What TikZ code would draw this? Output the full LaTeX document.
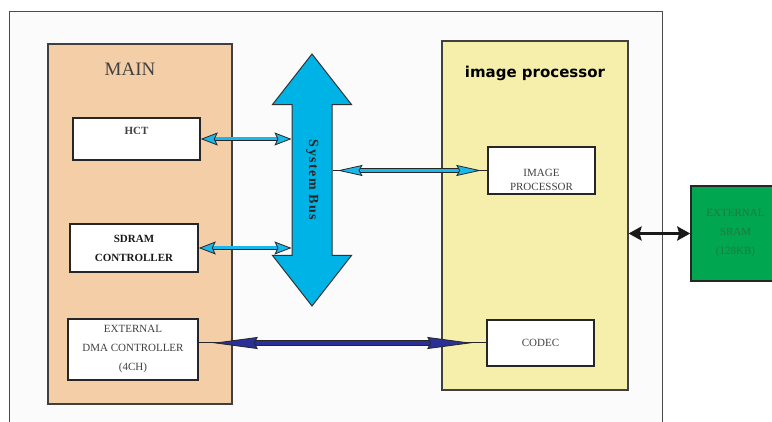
\documentclass[tikz,border=0pt]{standalone}
\usepackage{fontspec}
\setmainfont{Liberation Serif}
\newfontfamily\headfont{DejaVu Sans}
\newfontfamily\busfont[LetterSpace=10]{Liberation Serif}
\usepackage{xcolor}
\usepackage{tikz}
\usetikzlibrary{positioning,arrows.meta,shapes.arrows}
\definecolor{framebg}{HTML}{FBFBFB}
\definecolor{framecol}{HTML}{4A4A4A}
\definecolor{mainfill}{HTML}{F4CEA6}
\definecolor{ipfill}{HTML}{F6EFAB}
\definecolor{buscyan}{HTML}{00B3E6}
\definecolor{linkcyan}{HTML}{1AB8EA}
\definecolor{dmablue}{HTML}{2B3099}
\definecolor{sramgreen}{HTML}{00A650}
\definecolor{sramtext}{HTML}{1F7A3E}
\tikzstyle{container} = [rectangle, draw=black!75, line width=1.2pt, inner sep=0pt]
\tikzstyle{element} = [rectangle, draw=black!85, line width=1.5pt, fill=white, inner sep=0pt, align=center, text=black!75, font=\fontsize{11}{19}\selectfont]
\tikzstyle{bus} = [double arrow, draw=black!80, line width=1pt, fill=buscyan, double arrow head extend=19.5pt, double arrow tip angle=76, minimum height=252pt, minimum width=78pt, text height=9pt, text depth=3pt, inner xsep=0pt, inner ysep=13.5pt, text=black!85, font=\busfont\bfseries\fontsize{14}{14}\selectfont]
\tikzstyle{link} = [line width=0.8pt, draw=black!85, double=linkcyan, double distance=3pt]
\tikzstyle{dmalink} = [line width=0.8pt, draw=black!85, double=dmablue, double distance=3.5pt]
\tikzstyle{stub} = [line width=1pt, black!85]
\tikzstyle{cyanhead} = [{Stealth[length=17pt,width=13pt,inset=3pt,fill=linkcyan]}-{Stealth[length=17pt,width=13pt,inset=3pt,fill=linkcyan]}]
\tikzstyle{thinhead} = [{Stealth[length=25pt,width=11pt,inset=3pt,fill=linkcyan]}-{Stealth[length=25pt,width=11pt,inset=3pt,fill=linkcyan]}]
\tikzstyle{dmahead} = [{Stealth[length=45pt,width=12pt,inset=3pt,fill=dmablue]}-{Stealth[length=45pt,width=12pt,inset=3pt,fill=dmablue]}]
\tikzstyle{sramarrow} = [line width=3pt, black!90, {Stealth[length=13pt,width=14pt,inset=2pt]}-{Stealth[length=13pt,width=14pt,inset=2pt]}]

\begin{document}
\begin{tikzpicture}[x=1pt, y=-1pt]
		\useasboundingbox (0,0) rectangle (772,422);
		\clip (0,0) rectangle (772,422);
		% outer frame
		\fill[framebg] (9,12) rectangle (662,430);
		\draw[framecol, line width=1pt] (9,430) -- (9,12) -- (662,12) -- (662,430);
		
		% containers
		\node[container, fill=mainfill, minimum width=184pt, minimum height=360pt] (main) at (140,224) {};
		\node[font=\fontsize{19}{19}\selectfont, text=black!75] (maintitle) at (130,69) {MAIN};
		\node[container, fill=ipfill, minimum width=186pt, minimum height=349pt] (ip) at (535,215.5) {};
		\node[font=\headfont\bfseries\fontsize{15}{15}\selectfont] (iptitle) at (535,73) {image processor};
		
		% blocks
		\node[element, minimum width=127pt, minimum height=42pt,
		label={[anchor=north, yshift=-6pt, text=black!75, font=\fontsize{11}{11}\selectfont\bfseries]north:HCT}] (hct) at (136.5,139) {};
		\node[element, minimum width=128pt, minimum height=48pt, text=black!90, font=\fontsize{11}{19}\selectfont\bfseries] (sdram) at (134,248) {SDRAM\\CONTROLLER};
		\node[element, minimum width=130pt, minimum height=61pt] (dma) at (133,349.5) {EXTERNAL\\DMA CONTROLLER\\(4CH)};
		\node[element, minimum width=107pt, minimum height=47pt,
		label={[align=center, yshift=-9.5pt, text=black!75, font=\fontsize{11}{14}\selectfont]center:IMAGE\\PROCESSOR}] (improc) at (541.5,170.5) {};
		\node[element, minimum width=107pt, minimum height=46pt] (codec) at (540.5,343) {CODEC};
		\node[element, fill=sramgreen, text=sramtext, minimum width=89pt, minimum height=95pt] (sram) at (735.5,233.5) {EXTERNAL\\SRAM\\(128KB)};
		
		% system bus
		\node[bus, rotate=-90] (bus) at (312,180) {System Bus};
		
		% connectors
		\draw[link, cyanhead] (hct.east) -- (hct.east -| bus.south);
		\draw[link, cyanhead] (sdram.east) -- (sdram.east -| bus.south);
		\draw[stub] (bus.north |- improc.west) -- (improc.west);
		\draw[link, thinhead, shorten <=5pt, shorten >=6pt] (bus.north |- improc.west) -- (improc.west);
		\draw[stub] (dma.east |- codec.west) -- (codec.west);
		\draw[dmalink, dmahead, shorten <=14pt, shorten >=14pt] (dma.east |- codec.west) -- (codec.west);
		\draw[sramarrow] (ip.east |- sram.west) -- (sram.west);
		\end{tikzpicture}
\end{document}
